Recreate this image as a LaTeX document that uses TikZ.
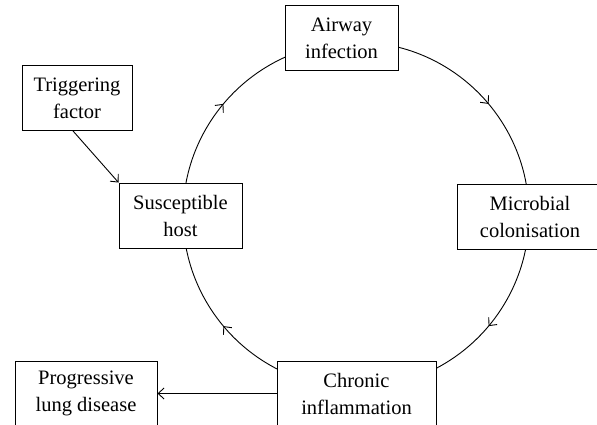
\documentclass[tikz,border=0pt]{standalone}
\usepackage{fontspec}
\setmainfont{Liberation Serif}
\usetikzlibrary{arrows.meta,decorations.markings}

\begin{document}
\begin{tikzpicture}[x=1pt, y=-1pt, line width=0.9pt,
		stage/.style={draw, fill=white, align=center, minimum height=65pt, inner sep=0pt,
			font=\fontsize{20.5}{27}\selectfont},
		tip/.style={-{Straight Barb[length=6pt,width=11pt]}},
		ringpath/.style={postaction={decorate}, decoration={markings,
			mark=at position 0.111 with {\arrow{Straight Barb[length=6pt,width=11pt]}},
			mark=at position 0.389 with {\arrow{Straight Barb[length=6pt,width=11pt]}},
			mark=at position 0.611 with {\arrow{Straight Barb[length=6pt,width=11pt]}},
			mark=at position 0.889 with {\arrow{Straight Barb[length=6pt,width=11pt]}}}}]
			%%%%% START %%%%%
			\useasboundingbox (0, 0) rectangle (597, 425);
			\clip (0, 0) rectangle (597, 425);
			
			\coordinate (hub) at (356, 215);
			\draw[ringpath] (hub) circle (173);
			
			\node[stage, minimum width=113pt] (airway) at (341.5, 38) {Airway\\infection};
			\node[stage, minimum width=110pt] (trigger) at (77, 98) {Triggering\\factor};
			\node[stage, minimum width=123pt] (host) at (180.5, 215.5) {Susceptible\\host};
			\node[stage, minimum width=146pt] (microbe) at (530, 216.5) {Microbial\\colonisation};
			\node[stage, minimum width=159pt] (chronic) at (356.5, 393.5) {Chronic\\inflammation};
			\node[stage, minimum width=142pt] (lung) at (86, 393.5) {Progressive\\lung disease};
			
			\draw[tip] ([xshift=-4pt]trigger.south) -- (host.north west);
			\draw[tip] (chronic.west) -- (lung.east);
			%%%%% END %%%%%
		\end{tikzpicture}
\end{document}
